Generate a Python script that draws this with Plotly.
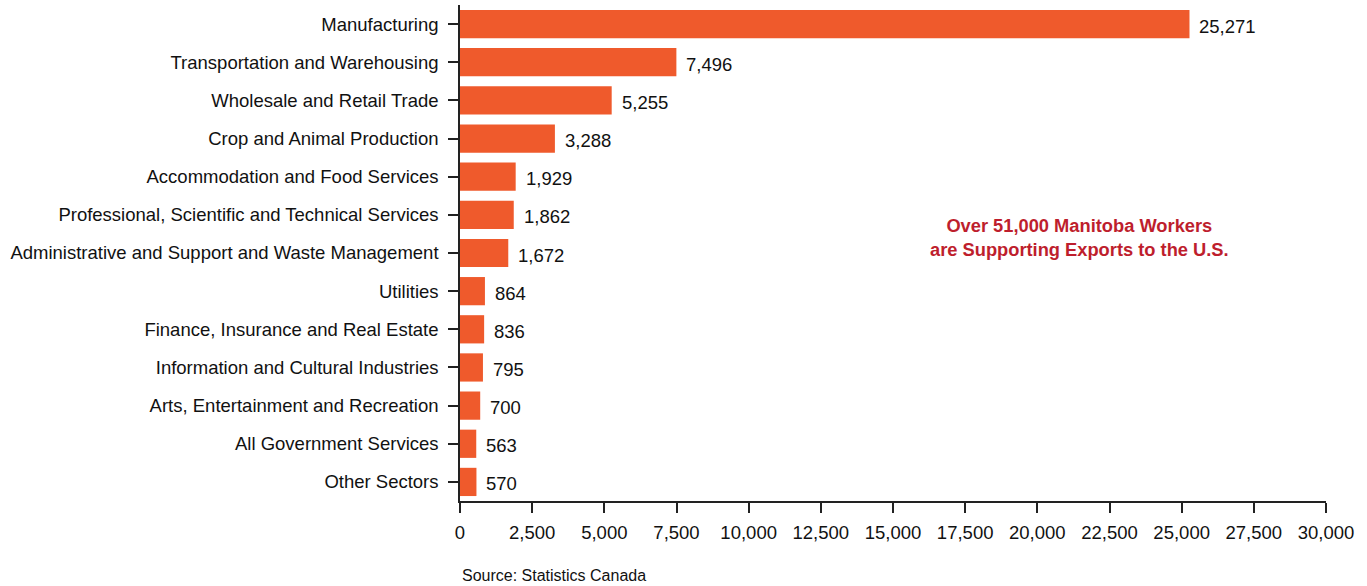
import plotly.graph_objects as go

# Manitoba jobs supported by exports to the U.S., by sector
sectors = [
    "Manufacturing",
    "Transportation and Warehousing",
    "Wholesale and Retail Trade",
    "Crop and Animal Production",
    "Accommodation and Food Services",
    "Professional, Scientific and Technical Services",
    "Administrative and Support and Waste Management",
    "Utilities",
    "Finance, Insurance and Real Estate",
    "Information and Cultural Industries",
    "Arts, Entertainment and Recreation",
    "All Government Services",
    "Other Sectors",
]
jobs = [25271, 7496, 5255, 3288, 1929, 1862, 1672, 864, 836, 795, 700, 563, 570]

x_ticks = list(range(0, 30001, 2500))

FONT = "Liberation Sans, Arial, Helvetica, sans-serif"
FS = 18.5
BAR_COLOR = "#EF5A2C"
AXIS_COLOR = "#222222"
TEXT_COLOR = "#111111"

fig = go.Figure(
    go.Bar(
        x=jobs,
        y=sectors,
        orientation="h",
        marker=dict(color=BAR_COLOR, line=dict(width=0)),
        hoverinfo="skip",
    )
)

# value labels to the right of each bar
for s, v in zip(sectors, jobs):
    fig.add_annotation(
        x=v, y=s, xref="x", yref="y",
        text=f"{v:,}",
        showarrow=False,
        xanchor="left", yanchor="middle",
        xshift=8, yshift=-2,
        font=dict(family=FONT, size=FS, color=TEXT_COLOR),
    )

fig.add_annotation(
    x=0.715, y=0.532, xref="paper", yref="paper",
    text="Over 51,000 Manitoba Workers<br>are Supporting Exports to the U.S.",
    showarrow=False,
    xanchor="center", yanchor="middle", align="center",
    font=dict(family=FONT, size=18.3, color="#BE1E2D", weight="bold"),
)

fig.add_annotation(
    x=0, y=-0.151, xref="paper", yref="paper",
    text="Source: Statistics Canada",
    showarrow=False,
    xanchor="left", yanchor="middle",
    font=dict(family=FONT, size=16, color=TEXT_COLOR),
)

axis_common = dict(
    showgrid=False,
    zeroline=False,
    showline=True,
    linecolor=AXIS_COLOR,
    linewidth=1.5,
    ticks="outside",
    ticklen=10,
    tickwidth=1.5,
    tickcolor=AXIS_COLOR,
    tickfont=dict(family=FONT, size=FS, color=TEXT_COLOR),
    automargin=False,
    fixedrange=True,
)

fig.update_layout(
    width=1367,
    height=586,
    margin=dict(l=460, r=41, t=5, b=85),
    paper_bgcolor="white",
    plot_bgcolor="white",
    bargap=0.26,
    showlegend=False,
    font=dict(family=FONT, size=FS, color=TEXT_COLOR),
    xaxis=dict(
        range=[0, 30000],
        tickvals=x_ticks,
        ticktext=[f"{t:,}" for t in x_ticks],
        tickangle=0,
        ticklabelstandoff=4,
        **axis_common,
    ),
    yaxis=dict(
        autorange="reversed",
        ticklabelstandoff=6,
        **axis_common,
    ),
)

fig.write_html("out.html", config={"displayModeBar": False})
